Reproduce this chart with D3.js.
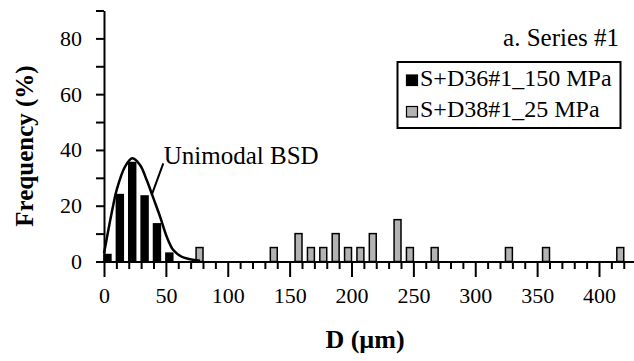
<!DOCTYPE html>
<html><head><meta charset="utf-8">
<script src="https://cdn.jsdelivr.net/npm/d3@7"></script>
<style>
html,body{margin:0;padding:0;background:#fff;}
svg{display:block;}
svg text{font-family:"Liberation Serif","Times New Roman",Times,serif !important;}
</style>
</head><body>
<svg id="chart" width="634" height="361"></svg>
<script>
// ---- data ----
const blackBins = [0, 10, 20, 30, 40, 50];
const blackValues = [2.5, 24, 35.5, 23.5, 13.5, 3];
const greyBins = [80, 140, 160, 170, 180, 190, 200, 210, 220, 240, 250, 270, 330, 360, 420];
const greyValues = [5, 5, 10, 5, 5, 10, 5, 5, 10, 15, 5, 5, 5, 5, 5];
const curveX = [0, 4.8, 7.5, 10.2, 17, 22.9, 29.1, 34.5, 39.9, 45.3, 50.7, 56, 62.8, 69.5, 77.6];
const curveY = [2.9, 14.3, 20.3, 25.6, 34, 37, 34.6, 29.2, 22.7, 16.1, 8.9, 4.1, 1.7, 0.8, 0.3];
const xTickLabels = [0, 50, 100, 150, 200, 250, 300, 350, 400];
const yTickLabels = [0, 20, 40, 60, 80];
const seriesNames = ["S+D36#1_150 MPa", "S+D38#1_25 MPa"];
const panelTitle = "a. Series #1";
const curveLabel = "Unimodal BSD";
const xTitle = "D (\u00b5m)";
const yTitle = "Frequency (%)";

// ---- layout ----
const FONT = '"Liberation Serif","Times New Roman",serif';
const svg = d3.select("#chart");
const x = d3.scaleLinear().domain([0, 430]).range([104, 104 + 430 * 1.2375]);
const y = d3.scaleLinear().domain([0, 90]).range([261.5, 10.5]);
const barW = 5.6;
const greyFill = "#b3b3b3";

// bars
svg.append("g").selectAll("rect").data(greyBins.map((b, i) => ({b, v: greyValues[i]})))
  .join("rect")
  .attr("x", d => x(d.b - barW)).attr("width", d => x(d.b) - x(d.b - barW))
  .attr("y", d => y(d.v)).attr("height", d => y(0) - y(d.v))
  .attr("fill", greyFill).attr("stroke", "#000").attr("stroke-width", 1.5);

svg.append("g").selectAll("rect").data(blackBins.map((b, i) => ({b, v: blackValues[i]})))
  .join("rect")
  .attr("x", d => x(d.b)).attr("width", d => x(d.b + barW) - x(d.b))
  .attr("y", d => y(d.v)).attr("height", d => y(0) - y(d.v))
  .attr("fill", "#000").attr("stroke", "#000").attr("stroke-width", 1.5);

// curve
const pts = curveX.map((cx, i) => [cx, curveY[i]]);
svg.append("path").datum(pts)
  .attr("d", d3.line().x(d => x(d[0])).y(d => y(d[1])).curve(d3.curveCatmullRom.alpha(0.5)))
  .attr("fill", "none").attr("stroke", "#000").attr("stroke-width", 2.5);

// x axis: minor + major ticks
const xMinor = svg.append("g").attr("transform", `translate(0,${y(0)})`)
  .call(d3.axisBottom(x).tickValues(d3.range(0, 431, 10).filter(v => v % 50 !== 0)).tickSize(7.5).tickFormat("").tickSizeOuter(0));
const xMajor = svg.append("g").attr("transform", `translate(0,${y(0)})`)
  .call(d3.axisBottom(x).tickValues(xTickLabels).tickSize(15.5).tickPadding(10.5).tickSizeOuter(0));
[xMinor, xMajor].forEach(g => {
  g.selectAll("line").attr("stroke", "#000").attr("stroke-width", 2);
  g.select(".domain").attr("stroke", "#000").attr("stroke-width", 2);
});
xMajor.selectAll("text").attr("font-size", 22).attr("fill", "#000").style("font-family", FONT);

// y axis
const yAxis = svg.append("g").attr("transform", `translate(${x(0)},0)`)
  .call(d3.axisLeft(y).tickValues(d3.range(0, 91, 10)).tickSize(8).tickPadding(14)
    .tickFormat(v => yTickLabels.includes(v) ? v : "").tickSizeOuter(0));
yAxis.selectAll("line").attr("stroke", "#000").attr("stroke-width", 2);
yAxis.select(".domain").attr("stroke", "#000").attr("stroke-width", 2);
yAxis.selectAll("text").attr("font-size", 22).attr("fill", "#000").style("font-family", FONT);

// axis titles
svg.append("text").attr("x", 365).attr("y", 348).attr("text-anchor", "middle")
  .attr("font-size", 26).attr("font-weight", "bold").style("font-family", FONT).text(xTitle);
svg.append("text").attr("transform", "translate(33,146) rotate(-90)").attr("text-anchor", "middle")
  .attr("font-size", 25).attr("font-weight", "bold").style("font-family", FONT).text(yTitle);

// panel title
svg.append("text").attr("x", 619).attr("y", 46).attr("text-anchor", "end")
  .attr("font-size", 25).style("font-family", FONT).text(panelTitle);

// legend
const lg = svg.append("g");
lg.append("rect").attr("x", 397.5).attr("y", 62).attr("width", 223).attr("height", 66)
  .attr("fill", "#fff").attr("stroke", "#000").attr("stroke-width", 2);
const legendFills = ["#000", greyFill];
const legendBase = [85.5, 117];
seriesNames.forEach((name, i) => {
  lg.append("rect").attr("x", 406.5).attr("y", legendBase[i] - 10.5).attr("width", 11).attr("height", 10.5)
    .attr("fill", legendFills[i]).attr("stroke", "#000").attr("stroke-width", 1.2);
  lg.append("text").attr("x", 420).attr("y", legendBase[i]).attr("font-size", 24)
    .style("font-family", FONT).text(name);
});

// curve annotation
svg.append("line").attr("x1", x(47.9)).attr("y1", y(35.2)).attr("x2", x(38.5)).attr("y2", y(23.8))
  .attr("stroke", "#000").attr("stroke-width", 2);
svg.append("text").attr("x", x(48.3)).attr("y", 163.5).attr("font-size", 25)
  .style("font-family", FONT).text(curveLabel);
</script>
</body></html>
